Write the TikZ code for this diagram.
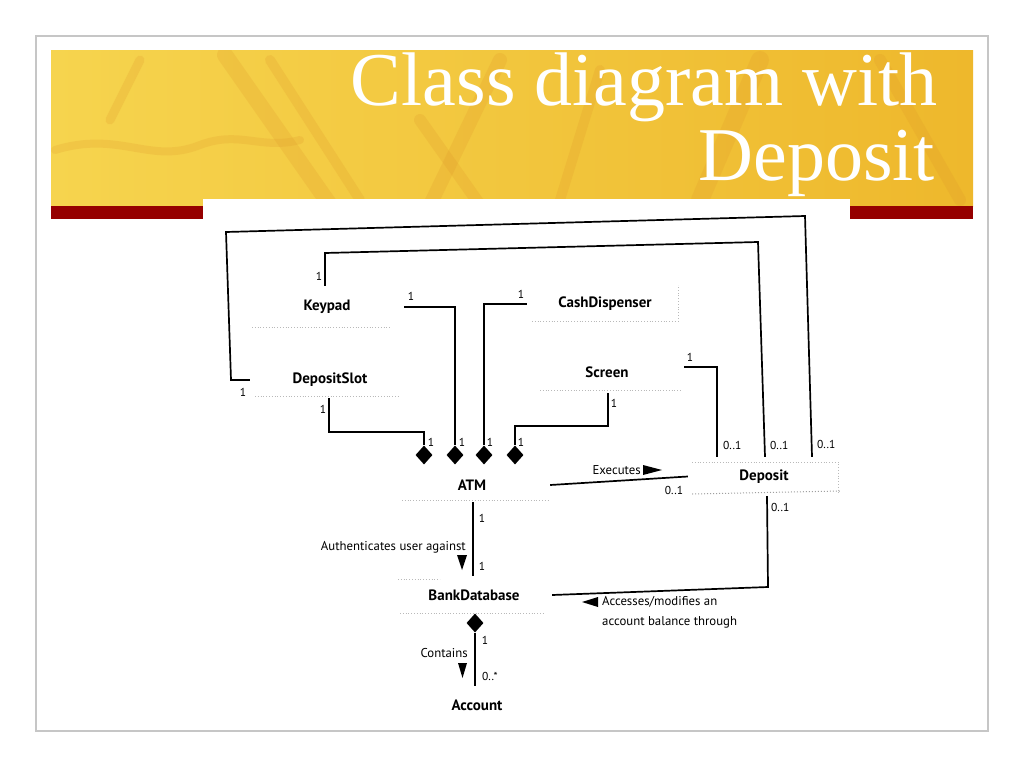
\documentclass[tikz,border=0pt]{standalone}
\usepackage{fontspec}
\setmainfont{Liberation Serif}
\setsansfont{PT Sans}
\usetikzlibrary{shapes.geometric,calc}
\definecolor{barred}{RGB}{150,0,0}
\definecolor{gold1}{RGB}{246,212,78}
\definecolor{gold2}{RGB}{238,184,44}
\definecolor{streak}{RGB}{222,148,40}
\begin{document}
\begin{tikzpicture}[x=1pt,y=-1pt,
  cls/.style={font=\sffamily\bfseries\fontsize{15}{17}\selectfont, inner sep=0pt, draw=none},
  lbl/.style={font=\sffamily\fontsize{12.8}{14}\selectfont, inner sep=0pt},
  mult/.style={font=\sffamily\fontsize{11.5}{12}\selectfont, inner sep=0pt},
  wire/.style={line width=1.7pt, line join=miter},
  comp/.style={diamond, fill=black, minimum width=17pt, minimum height=19pt, inner sep=0pt},
  faint/.style={gray!55, dotted, line width=0.8pt},
  ttl/.style={font=\fontsize{76}{76}\selectfont, inner sep=0pt}]
\fill[white] (0,0) rectangle (1024,768);
\useasboundingbox (0,0) rectangle (1024,768);
% frame
\draw[gray!45, line width=1.5pt] (36,36) rectangle (988,731);
% header
\shade[left color=gold1, right color=gold2] (51,51) rectangle (973,206);
\begin{scope}
\clip (51,51) rectangle (973,206);
\begin{scope}[streak, opacity=0.2, line cap=round]
\draw[line width=16pt] (225,55) -- (330,205);
\draw[line width=10pt] (270,60) -- (360,200);
\draw[line width=8pt] (55,150) .. controls (120,130) and (150,165) .. (200,145) .. controls (240,130) and (260,150) .. (300,140);
\draw[line width=12pt] (420,120) -- (480,205);
\draw[line width=14pt] (500,60) -- (430,205);
\draw[line width=10pt] (600,70) -- (560,200);
\draw[line width=18pt] (760,60) -- (700,200);
\draw[line width=12pt] (880,60) -- (960,200);
\draw[line width=9pt] (140,60) -- (110,120);
\end{scope}
\end{scope}
\fill[barred] (51,206) rectangle (203,219);
\fill[barred] (850,206) rectangle (973,219);
\fill[white] (203,199) rectangle (850,222);
% title
\node[ttl, anchor=base east, text=white] (t1) at (938,105) {Class diagram with};
\node[ttl, anchor=base east, text=white] (t2) at (935,180) {Deposit};

% classes
\node[cls, minimum width=154pt, minimum height=42pt] (keypad) at (327,307) {Keypad};
\node[cls, minimum width=156pt, minimum height=42pt] (cashdispenser) at (605,304) {CashDispenser};
\node[cls, minimum width=160pt, minimum height=36pt] (depositslot) at (330,380) {DepositSlot};
\node[cls, minimum width=154pt, minimum height=42pt] (screen) at (607,372) {Screen};
\node[cls, minimum width=156pt, minimum height=34pt] (atm) at (472,485) {ATM};
\node[cls, minimum width=152pt, minimum height=39pt] (deposit) at (764,476.5) {Deposit};
\node[cls, minimum width=156pt, minimum height=38pt] (bankdatabase) at (474,595) {BankDatabase};
\node[cls, minimum width=150pt, minimum height=38pt] (account) at (477,705) {Account};

% faint residue of class boxes
\draw[faint] (252,327) -- (390,327);
\draw[faint] (255,396) -- (400,396);
\draw[faint] (532,321) -- (678,321) -- (678,285);
\draw[faint] (540,390) -- (682,390);
\draw[faint] (402,500) -- (550,500);
\draw[faint] (692,462) -- (838,462) -- (838,493);
\draw[faint, gray!75, line width=1pt] (692,494) -- (840,491);
\draw[faint] (398,579) -- (440,579);
\draw[faint] (400,613) -- (545,613);

% composition diamonds
\node[comp] (d1) at (424,455) {};
\node[comp] (d2) at (455,455) {};
\node[comp] (d3) at (484,455) {};
\node[comp] (d4) at (515,455) {};
\node[comp] (dB) at (475,623) {};

% connectors
\draw[wire] (depositslot.west) -- (231,380) -- (226,232) -- (805,216) -- (812,0 |- deposit.north);
\draw[wire] (325,0 |- keypad.north) -- (325,253) -- (758,242) -- (765,0 |- deposit.north);
\draw[wire] (keypad.east) -| (d2.north);
\draw[wire] (cashdispenser.west) -| (d3.north);
\draw[wire] (329,0 |- depositslot.south) -- (329,432) -| (d1.north);
\draw[wire] (608,0 |- screen.south) -- (608,426) -| (d4.north);
\draw[wire] ($(screen.east)+(0,-5)$) -| (717,0 |- deposit.north);
\draw[wire] (atm.east) -- (deposit.west);
\draw[wire] (473,0 |- atm.south) -- (473,0 |- bankdatabase.north);
\draw[wire] (767,0 |- deposit.south) -- (768,587) -- (bankdatabase.east);
\draw[wire] (dB.south) -- (dB.south |- account.north);

% multiplicities
\node[mult] (m1) at (243,392) {1};
\node[mult] (m2) at (319,276) {1};
\node[mult, anchor=west] (m3) at (817,444) {0..1};
\node[mult, anchor=west] (m4) at (770,445) {0..1};
\node[mult, anchor=west] (m5) at (723,445) {0..1};
\node[mult] (m6) at (411,296) {1};
\node[mult] (m7) at (521,294) {1};
\node[mult] (m8) at (323,409) {1};
\node[mult] (m9) at (614,403) {1};
\node[mult] (m10) at (690,357) {1};
\node[mult] (m11) at (431,442) {1};
\node[mult] (m12) at (462,442) {1};
\node[mult] (m13) at (490,442) {1};
\node[mult] (m14) at (521,442) {1};
\node[mult] (m15) at (674,490) {0..1};
\node[mult, anchor=west] (m16) at (771,507) {0..1};
\node[mult] (m17) at (482,518) {1};
\node[mult] (m18) at (482,566) {1};
\node[mult] (m19) at (485,640) {1};
\node[mult, anchor=west] (m20) at (482,676) {0..*};

% association labels
\node[lbl, anchor=east] (lauth) at (466,547) {Authenticates user against};
\fill (457,555) -- (467,555) -- (462,570) -- cycle;
\node[lbl, anchor=east] (lcont) at (468,653) {Contains};
\fill (458,663) -- (467,663) -- (462.5,678) -- cycle;
\node[lbl, anchor=east] (lexec) at (641,470) {Executes};
\fill (643,465) -- (662,470) -- (643,475) -- cycle;
\node[lbl, anchor=west] (lacc1) at (602,602) {Accesses/modifies an};
\node[lbl, anchor=west] (lacc2) at (602,622) {account balance through};
\fill (598,597) -- (598,607) -- (582,602) -- cycle;
\end{tikzpicture}
\end{document}
